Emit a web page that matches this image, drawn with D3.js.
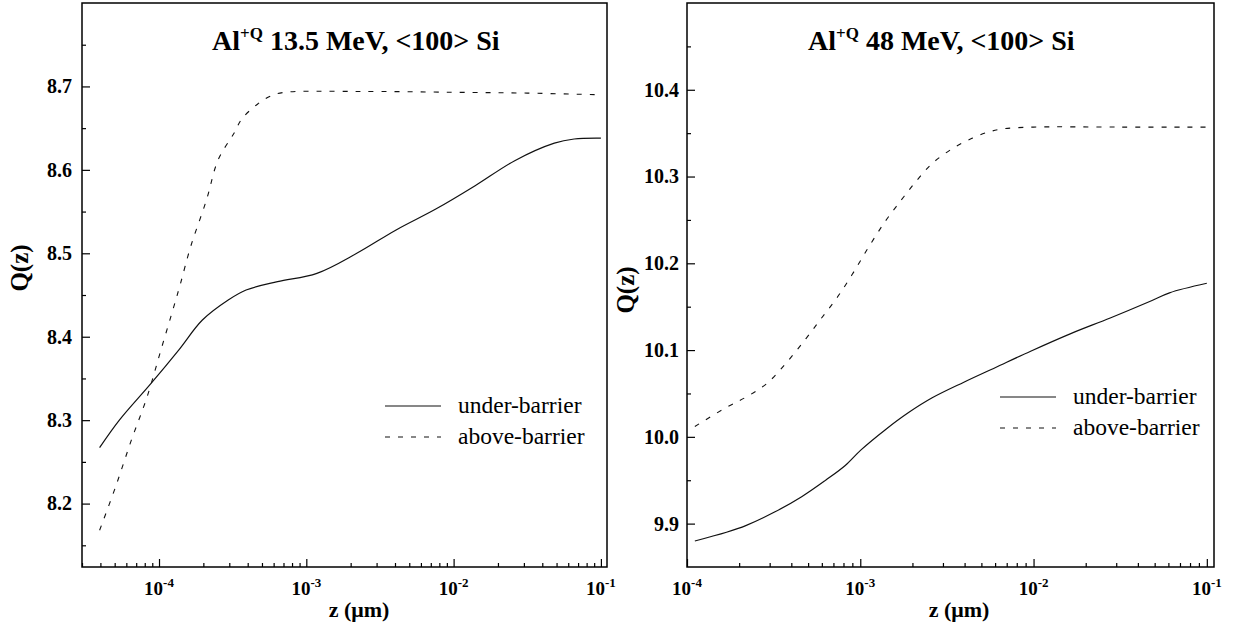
<!DOCTYPE html>
<html>
<head>
<meta charset="utf-8">
<script src="https://cdn.jsdelivr.net/npm/d3@7"></script>
<style>
body { margin: 0; background: #fff; }
</style>
</head>
<body>
<svg id="chart" width="1236" height="626"></svg>
<script>
/* global d3 */

// Data //

let legendLabels = ["under-barrier", "above-barrier"];
let xTickExps = [-4, -3, -2, -1];

// left panel: Al 13.5 MeV
let leftTitle = ["Al", "+Q", " 13.5 MeV, <100> Si"];
let leftYTicks = [8.2, 8.3, 8.4, 8.5, 8.6, 8.7];
let leftUnderZ = [3.95e-5, 5.38e-5, 8.83e-5, 1.36e-4, 1.97e-4, 2.95e-4, 3.90e-4, 6.38e-4, 1.18e-3,
    2.20e-3, 4.07e-3, 7.57e-3, 1.40e-2, 2.60e-2, 4.83e-2, 6.58e-2, 0.1];
let leftUnderQ = [8.267, 8.300, 8.344, 8.384, 8.420, 8.444, 8.456, 8.466, 8.476,
    8.500, 8.528, 8.553, 8.581, 8.611, 8.632, 8.637, 8.638];
let leftAboveZ = [3.95e-5, 5.07e-5, 6.49e-5, 8.30e-5, 1.03e-4, 1.26e-4, 1.40e-4, 1.64e-4, 2.10e-4,
    2.52e-4, 3.23e-4, 3.65e-4, 4.68e-4, 5.81e-4, 7.21e-4, 2.2e-3, 1e-2, 3.16e-2, 0.1];
let leftAboveQ = [8.168, 8.220, 8.276, 8.328, 8.384, 8.436, 8.464, 8.508, 8.564,
    8.612, 8.644, 8.661, 8.679, 8.689, 8.693, 8.694, 8.693, 8.692, 8.690];

// right panel: Al 48 MeV
let rightTitle = ["Al", "+Q", " 48 MeV, <100> Si"];
let rightYTicks = [9.9, 10.0, 10.1, 10.2, 10.3, 10.4];
let rightUnderZ = [1.11e-4, 1.69e-4, 2.20e-4, 3.18e-4, 4.59e-4, 6.31e-4, 8.19e-4, 1.01e-3, 1.39e-3,
    1.90e-3, 2.60e-3, 3.96e-3, 6.04e-3, 9.69e-3, 1.64e-2, 2.77e-2, 4.68e-2, 6.09e-2, 0.1];
let rightUnderQ = [9.880, 9.890, 9.898, 9.913, 9.931, 9.950, 9.967, 9.985, 10.008,
    10.028, 10.045, 10.063, 10.080, 10.099, 10.119, 10.137, 10.156, 10.166, 10.177];
let rightAboveZ = [1.11e-4, 1.69e-4, 2.20e-4, 2.87e-4, 3.73e-4, 4.85e-4, 5.98e-4, 7.38e-4, 9.10e-4,
    1.12e-3, 1.39e-3, 1.71e-3, 2.11e-3, 2.60e-3, 3.39e-3, 4.41e-3, 5.43e-3, 6.70e-3, 1e-2, 3.16e-2, 0.1];
let rightAboveQ = [10.012, 10.034, 10.046, 10.061, 10.085, 10.113, 10.137, 10.161, 10.189,
    10.219, 10.248, 10.272, 10.295, 10.315, 10.332, 10.344, 10.351, 10.355, 10.357, 10.357, 10.357];

// Chart setup //

let svg = d3.select("#chart");
let serif = "'Liberation Serif'";
let dashPattern = "5,8";

function toPoints(zs, qs) {
    return zs.map(function(z, i) { return [z, qs[i]]; });
}

function drawPanel(p) {
    let x = d3.scaleLog().domain(p.xDomain).range([p.x0, p.x1]);
    let y = d3.scaleLinear().domain(p.yDomain).range([p.y1, p.y0]);
    let g = svg.append("g");

    // ticks (pointing inward)
    let xMajor = xTickExps.map(function(e) { return Math.pow(10, e); })
        .filter(function(v) { return v >= p.xDomain[0] && v <= p.xDomain[1]; });
    let xMinor = x.ticks().filter(function(v) {
        let m = Math.round(v / Math.pow(10, Math.floor(Math.log10(v) + 1e-9)));
        return m !== 1;
    });
    let yMinor = p.yTicks.map(function(v) { return v + 0.05; })
        .concat([p.yTicks[0] - 0.05])
        .filter(function(v) { return v > p.yDomain[0] + 0.01 && v < p.yDomain[1] - 0.01; });

    g.append("g")
        .attr("transform", "translate(0," + p.y1 + ")")
        .call(d3.axisBottom(x).tickValues(xMajor).tickSize(-8).tickFormat(""))
        .call(function(a) { a.select(".domain").remove(); });
    g.append("g")
        .attr("transform", "translate(0," + p.y1 + ")")
        .call(d3.axisBottom(x).tickValues(xMinor).tickSize(-4).tickFormat(""))
        .call(function(a) { a.select(".domain").remove(); });

    let yAxis = g.append("g")
        .attr("transform", "translate(" + p.x0 + ",0)")
        .call(d3.axisLeft(y).tickValues(p.yTicks).tickSize(-8).tickPadding(p.yPad)
            .tickFormat(d3.format(".1f")));
    yAxis.select(".domain").remove();
    yAxis.selectAll(".tick text")
        .style("font-family", serif)
        .style("font-size", "20px")
        .style("font-weight", "bold")
        .attr("fill", "#000");
    g.append("g")
        .attr("transform", "translate(" + p.x0 + ",0)")
        .call(d3.axisLeft(y).tickValues(yMinor).tickSize(-4).tickFormat(""))
        .call(function(a) { a.select(".domain").remove(); });

    g.selectAll(".tick line").attr("stroke", "#000").attr("stroke-width", 1.2);

    // x tick labels with exponents
    let xl = g.selectAll(".xlab").data(xMajor).enter().append("text")
        .attr("class", "xlab")
        .attr("x", function(d) { return x(d); })
        .attr("y", 595)
        .attr("text-anchor", "middle")
        .style("font-family", serif)
        .style("font-size", "19px")
        .style("font-weight", "bold");
    xl.append("tspan").text("10");
    xl.append("tspan")
        .attr("dy", -8)
        .style("font-size", "13px")
        .text(function(d) { return "-" + Math.round(-Math.log10(d)); });

    // frame
    g.append("rect")
        .attr("x", p.x0).attr("y", p.y0)
        .attr("width", p.x1 - p.x0).attr("height", p.y1 - p.y0)
        .attr("fill", "none").attr("stroke", "#000").attr("stroke-width", 1.5);

    // curves
    let line = d3.line()
        .x(function(d) { return x(d[0]); })
        .y(function(d) { return y(d[1]); })
        .curve(d3.curveCatmullRom.alpha(0.5));
    g.append("path").datum(toPoints(p.underZ, p.underQ))
        .attr("d", line).attr("fill", "none")
        .attr("stroke", "#111").attr("stroke-width", 1.2);
    g.append("path").datum(toPoints(p.aboveZ, p.aboveQ))
        .attr("d", line).attr("fill", "none")
        .attr("stroke", "#111").attr("stroke-width", 1.1)
        .attr("stroke-dasharray", dashPattern);

    // title
    let t = g.append("text")
        .attr("x", p.titleX).attr("y", 50)
        .style("font-family", serif)
        .style("font-size", "28px").style("font-weight", "bold");
    t.append("tspan").text(p.title[0]);
    t.append("tspan").attr("dy", -11).style("font-size", "17px").text(p.title[1]);
    t.append("tspan").attr("dy", 11).text(p.title[2]);

    // axis labels
    g.append("text")
        .attr("x", p.xLabelX).attr("y", 617)
        .attr("text-anchor", "middle")
        .style("font-family", serif)
        .style("font-size", "22px").style("font-weight", "bold")
        .text("z (\u03bcm)");
    g.append("text")
        .attr("transform", "translate(" + p.yLabelX + "," + p.yLabelY + ") rotate(-90)")
        .attr("text-anchor", "middle")
        .style("font-family", serif)
        .style("font-size", "25px").style("font-weight", "bold")
        .text("Q(z)");

    // legend
    let legend = g.selectAll(".legend").data(legendLabels).enter().append("g")
        .attr("class", "legend")
        .attr("transform", function(d, i) {
            return "translate(" + p.legX + "," + (p.legY + i * p.legStep) + ")";
        });
    legend.append("line")
        .attr("x1", 0).attr("x2", 56).attr("y1", 0).attr("y2", 0)
        .attr("stroke", "#111").attr("stroke-width", 1.2)
        .attr("stroke-dasharray", function(d, i) { return i === 1 ? dashPattern : null; });
    legend.append("text")
        .attr("x", 73).attr("y", 7)
        .style("font-family", serif)
        .style("font-size", "23.5px")
        .text(function(d) { return d; });
}

drawPanel({
    x0: 82, x1: 607, y0: 3, y1: 567,
    xDomain: [3e-5, 0.11], yDomain: [8.124, 8.8],
    yTicks: leftYTicks, yPad: 10,
    underZ: leftUnderZ, underQ: leftUnderQ,
    aboveZ: leftAboveZ, aboveQ: leftAboveQ,
    title: leftTitle, titleX: 212,
    xLabelX: 359, yLabelX: 28, yLabelY: 268,
    legX: 385, legY: 406, legStep: 31
});

drawPanel({
    x0: 687, x1: 1214, y0: 3, y1: 567,
    xDomain: [1e-4, 0.11], yDomain: [9.85, 10.5],
    yTicks: rightYTicks, yPad: 8,
    underZ: rightUnderZ, underQ: rightUnderQ,
    aboveZ: rightAboveZ, aboveQ: rightAboveQ,
    title: rightTitle, titleX: 808,
    xLabelX: 959, yLabelX: 634, yLabelY: 290,
    legX: 1000, legY: 397, legStep: 31
});
</script>
</body>
</html>
